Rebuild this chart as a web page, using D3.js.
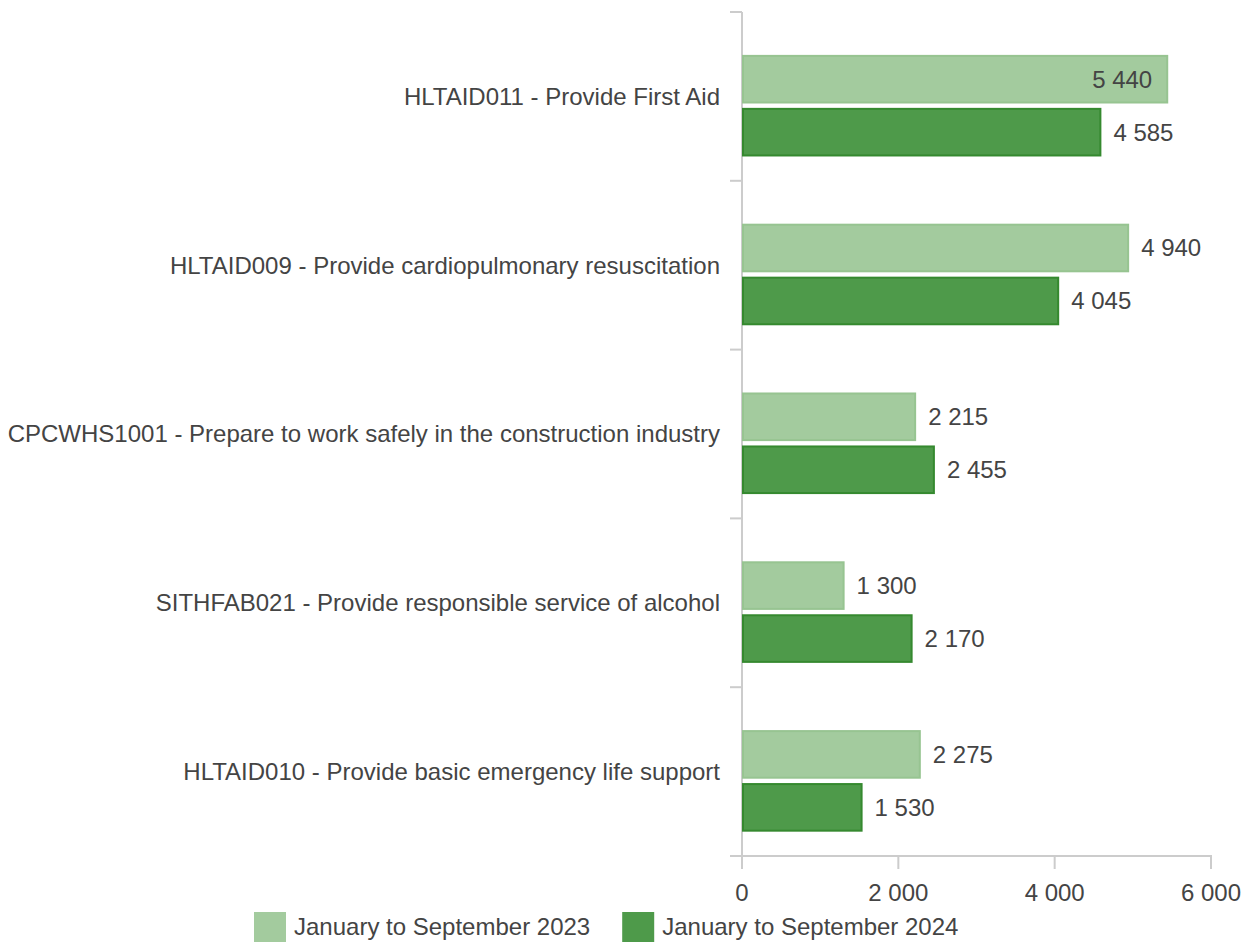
<!DOCTYPE html>
<html>
<head>
<meta charset="utf-8">
<script src="https://cdn.jsdelivr.net/npm/d3@7"></script>
<style>
  body { margin: 0; background: #fff; }
  text { font-family: "Liberation Sans", Arial, sans-serif; }
</style>
</head>
<body>
<div id="chart"></div>
<script>
const categories = [
  "HLTAID011 - Provide First Aid",
  "HLTAID009 - Provide cardiopulmonary resuscitation",
  "CPCWHS1001 - Prepare to work safely in the construction industry",
  "SITHFAB021 - Provide responsible service of alcohol",
  "HLTAID010 - Provide basic emergency life support"
];
const seriesNames = ["January to September 2023", "January to September 2024"];
const values2023 = [5440, 4940, 2215, 1300, 2275];
const values2024 = [4585, 4045, 2455, 2170, 1530];
const xTicks = [0, 2000, 4000, 6000];

const fills = ["#a3cb9e", "#4e9a4a"];
const strokes = ["#97c491", "#35892f"];

const W = 1244, H = 942;
const margin = { top: 12, right: 33, bottom: 86, left: 742 };
const width = W - margin.left - margin.right;
const height = H - margin.top - margin.bottom;
const fontSize = 24;
const textColor = "#444";

const svg = d3.select("#chart").append("svg")
  .attr("width", W).attr("height", H);
const g = svg.append("g")
  .attr("transform", `translate(${margin.left},${margin.top})`);

const x = d3.scaleLinear().domain([0, 6000]).range([0, width]);
const y = d3.scaleBand().domain(categories).range([0, height]);
// bars sit a little below the band centre, as in the original
const ySub = d3.scaleBand().domain(seriesNames)
  .range([y.bandwidth() * 0.26, y.bandwidth() * 0.85]).paddingInner(0.12);

const fmt = v => d3.format(",")(v).replace(/,/g, " ");

// axes
const axisColor = "#cccccc";
g.append("line").attr("x1", 0).attr("x2", 0).attr("y1", 0).attr("y2", height)
  .attr("stroke", axisColor).attr("stroke-width", 2);
[0, ...categories.map(c => y(c) + y.bandwidth())].forEach(t => {
  g.append("line").attr("x1", -12).attr("x2", 0).attr("y1", t).attr("y2", t)
    .attr("stroke", axisColor).attr("stroke-width", 2);
});
g.append("line").attr("x1", -12).attr("x2", width + 1).attr("y1", height).attr("y2", height)
  .attr("stroke", axisColor).attr("stroke-width", 2);
xTicks.forEach(t => {
  g.append("line").attr("x1", x(t)).attr("x2", x(t)).attr("y1", height).attr("y2", height + 13)
    .attr("stroke", axisColor).attr("stroke-width", 2);
  g.append("text").attr("x", x(t)).attr("y", height + 45)
    .attr("text-anchor", "middle").attr("font-size", fontSize).attr("fill", textColor)
    .text(fmt(t));
});

// category labels
g.selectAll(".cat").data(categories).enter().append("text")
  .attr("class", "cat")
  .attr("x", -22)
  .attr("y", d => y(d) + y.bandwidth() / 2)
  .attr("dy", "0.35em")
  .attr("text-anchor", "end")
  .attr("font-size", fontSize)
  .attr("fill", textColor)
  .text(d => d);

// bars
const series = [values2023, values2024];
series.forEach((vals, si) => {
  const name = seriesNames[si];
  const rows = categories.map((c, i) => ({ c, v: vals[i] }));
  g.selectAll(".bar" + si).data(rows).enter().append("rect")
    .attr("class", "bar" + si)
    .attr("x", 1)
    .attr("y", d => y(d.c) + ySub(name))
    .attr("width", d => x(d.v) - 1)
    .attr("height", ySub.bandwidth())
    .attr("fill", fills[si])
    .attr("stroke", strokes[si])
    .attr("stroke-width", 2);

  g.selectAll(".lab" + si).data(rows).enter().append("text")
    .attr("class", "lab" + si)
    .attr("y", d => y(d.c) + ySub(name) + ySub.bandwidth() / 2)
    .attr("dy", "0.35em")
    .attr("font-size", fontSize)
    .attr("fill", textColor)
    .text(d => fmt(d.v))
    .each(function (d) {
      const tw = this.getComputedTextLength();
      const xo = x(d.v) + 13;
      // labels that would run past the plot go inside the bar
      if (xo + tw > width + 12) {
        d3.select(this).attr("x", x(d.v) - 15).attr("text-anchor", "end");
      } else {
        d3.select(this).attr("x", xo).attr("text-anchor", "start");
      }
    });
});

// legend
const legend = svg.append("g").attr("transform", `translate(254, 912)`);
let lx = 0;
seriesNames.forEach((name, i) => {
  const item = legend.append("g").attr("transform", `translate(${lx},0)`);
  item.append("rect").attr("width", 32).attr("height", 30).attr("fill", fills[i]);
  const t = item.append("text").attr("x", 40).attr("y", 15).attr("dy", "0.35em")
    .attr("font-size", fontSize).attr("fill", textColor).text(name);
  lx += 40 + t.node().getComputedTextLength() + 32;
});
</script>
</body>
</html>
